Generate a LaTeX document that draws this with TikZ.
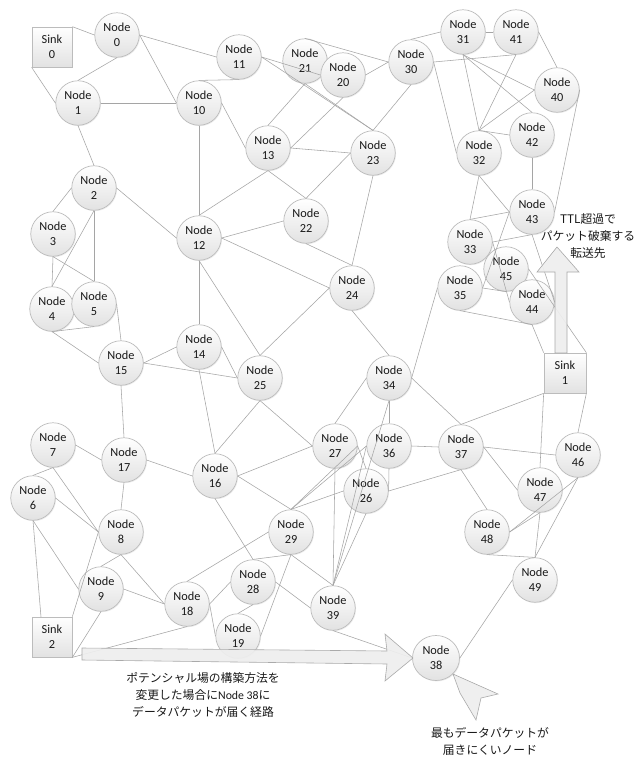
\documentclass[tikz,border=0pt]{standalone}
\usepackage{fontspec}
\setmainfont{Carlito}
\newfontfamily\cjk{Noto Sans CJK JP}
\usetikzlibrary{shadows,shapes.geometric}
\definecolor{edgegray}{RGB}{165,165,165}
\definecolor{rim}{RGB}{188,188,188}
\definecolor{shadebot}{RGB}{226,226,226}
\definecolor{inkc}{RGB}{25,25,25}
\definecolor{arrowfill}{RGB}{238,238,238}
\definecolor{arrowline}{RGB}{170,170,170}

\begin{document}
\begin{tikzpicture}[x=1pt,y=-1pt,
  nd/.style={circle, minimum size=44.5pt, inner sep=0pt, draw=rim, line width=0.7pt,
    top color=white, bottom color=shadebot, align=center, text=inkc,
    font=\fontsize{12.3}{15}\selectfont,
    drop shadow={shadow xshift=0.8pt, shadow yshift=-0.9pt, opacity=0.15}},
  sinkbox/.style={rectangle, minimum width=40pt, minimum height=40pt, inner sep=0pt,
    draw=rim, line width=0.7pt, top color=white, bottom color=shadebot,
    align=center, text=inkc, font=\fontsize{12.3}{15}\selectfont,
    drop shadow={shadow xshift=0.8pt, shadow yshift=-0.9pt, opacity=0.15}},
  link/.style={draw=edgegray, line width=0.55pt},
  bigarrow/.style={fill=arrowfill, draw=arrowline, line width=0.6pt, fill opacity=0.92},
  caption/.style={align=center, text=inkc, font=\fontsize{11.8}{17}\selectfont}]

\path[use as bounding box, fill=white] (0,0) rectangle (640,758);

% sinks
\node[sinkbox] (s0) at (52,47) {Sink\\0};
\node[sinkbox, minimum width=42pt] (s1) at (565,373) {Sink\\1};
\node[sinkbox] (s2) at (52,637) {Sink\\2};

% sensor nodes
\node[nd] (n0) at (117,35) {Node\\0};
\node[nd] (n1) at (78,103) {Node\\1};
\node[nd] (n10) at (199,103) {Node\\10};
\node[nd] (n11) at (239,57) {Node\\11};
\node[nd] (n21) at (305,61) {Node\\21};
\node[nd] (n20) at (343,75) {Node\\20};
\node[nd] (n30) at (411,62) {Node\\30};
\node[nd] (n31) at (463,32) {Node\\31};
\node[nd] (n41) at (516,32) {Node\\41};
\node[nd] (n40) at (557,90) {Node\\40};
\node[nd] (n42) at (532,135) {Node\\42};
\node[nd] (n32) at (479,153) {Node\\32};
\node[nd] (n13) at (268,148) {Node\\13};
\node[nd] (n23) at (373,153) {Node\\23};
\node[nd] (n2) at (94,188) {Node\\2};
\node[nd] (n3) at (53,234) {Node\\3};
\node[nd] (n4) at (52,309) {Node\\4};
\node[nd] (n5) at (94,304) {Node\\5};
\node[nd] (n12) at (199,238) {Node\\12};
\node[nd] (n22) at (306,221) {Node\\22};
\node[nd] (n24) at (352,288) {Node\\24};
\node[nd] (n14) at (199,347) {Node\\14};
\node[nd] (n15) at (121,363) {Node\\15};
\node[nd] (n25) at (260,378) {Node\\25};
\node[nd] (n34) at (389,378) {Node\\34};
\node[nd] (n43) at (532,212) {Node\\43};
\node[nd] (n33) at (470,242) {Node\\33};
\node[nd] (n35) at (460,288) {Node\\35};
\node[nd] (n45) at (506,269) {Node\\45};
\node[nd] (n44) at (532,302) {Node\\44};
\node[nd] (n7) at (53,445) {Node\\7};
\node[nd] (n17) at (124,460) {Node\\17};
\node[nd] (n6) at (33,498) {Node\\6};
\node[nd] (n8) at (121,532) {Node\\8};
\node[nd] (n9) at (101,589) {Node\\9};
\node[nd] (n18) at (187,604) {Node\\18};
\node[nd] (n16) at (215,476) {Node\\16};
\node[nd] (n27) at (335,446) {Node\\27};
\node[nd] (n36) at (389,446) {Node\\36};
\node[nd] (n26) at (366,491) {Node\\26};
\node[nd] (n29) at (291,532) {Node\\29};
\node[nd] (n28) at (253,582) {Node\\28};
\node[nd] (n39) at (333,608) {Node\\39};
\node[nd] (n19) at (238,636) {Node\\19};
\node[nd] (n37) at (461,447) {Node\\37};
\node[nd] (n46) at (578,455) {Node\\46};
\node[nd] (n47) at (540,490) {Node\\47};
\node[nd] (n48) at (487,532) {Node\\48};
\node[nd] (n49) at (535,580) {Node\\49};
\node[nd, ellipse, minimum width=47pt, minimum height=45pt] (n38) at (436,658) {Node\\38};

% attachment point on the top edge of sink 2
\coordinate (s2t) at (41,617);

% links between connection points
\foreach \a/\b in {
  s0.north east/n0.west, s0.south west/n1.west, n0.south/n1.north,
  n0.east/n10.west, n0.east/n11.west, n1.east/n10.west, n1.south/n2.north,
  n10.north/n11.south, n10.south/n12.north, n10.east/n13.west,
  n11.east/n20.west, n11.east/n23.north, n21.north/n30.west, n20.east/n30.west,
  n21.south/n13.north, n21.south/n23.north, n20.south/n13.east,
  n13.east/n23.west, n30.south/n23.north, n30.north/n31.west,
  n30.east/n41.south, n30.east/n32.west, n31.east/n41.west,
  n31.south/n32.north, n31.south/n40.west, n31.south/n42.north,
  n41.south/n32.north, n41.east/n40.north, n40.west/n32.north,
  n42.west/n32.north, n40.east/n43.east, n42.south/n43.north,
  n32.south/n43.west, n32.south/n33.north, n33.north/n43.west,
  n43.south/n33.east, n43.west/n35.east, n43.south/n44.east,
  n33.east/n44.west,
  n35.east/n45.south, n35.south/n44.south, n44.south/s1.north west,
  n45.east/s1.north east, n34.east/n35.west,
  n13.south/n12.north, n13.south/n22.north, n23.west/n22.north,
  n23.south/n24.north, n22.south/n24.north, n12.east/n22.west,
  n12.east/n24.west, n12.south/n25.north, n12.south/n14.north,
  n25.north/n24.west, n24.south/n34.north,
  n2.west/n3.north, n2.south/n4.north, n2.south/n5.north, n2.east/n12.west,
  n3.south/n4.north, n3.south/n5.north, n4.south/n5.south,
  n4.south/n15.west, n5.east/n15.north, n15.east/n14.west,
  n15.east/n25.west, n14.east/n25.west, n14.south/n16.north,
  n15.south/n17.north, n7.east/n17.west, n17.east/n16.west,
  n17.south/n8.north, n7.south/n6.north, n7.south/n8.west,
  n6.east/n8.west, n6.south/s2t, n6.south/n9.west, n8.west/s2.north east,
  n8.south/n9.north, n8.south/n18.west, n9.east/n18.west,
  n9.south/s2.south east, s2.south east/n18.south,
  n18.north/n29.west, n18.east/n28.west, n18.east/n19.west,
  n16.north/n25.south, n25.south/n27.west, n16.east/n27.west,
  n16.east/n29.north, n16.south/n28.north, n28.north/n29.south,
  n28.south/n19.north, n28.east/n39.west, n29.south/n39.north,
  n29.south/n19.east, n29.north/n27.east, n29.north/n36.west,
  n29.north/n26.west, n27.east/n26.north, n27.south/n39.north,
  n36.west/n39.north, n26.south/n39.north, n34.south/n39.north,
  n34.west/n27.north, n34.south/n36.north, n36.south/n26.east,
  n36.east/n37.west, n34.east/n37.north, n26.east/n37.south,
  n37.north/s1.south west, n37.east/n46.west, n37.east/n47.west,
  n37.south/n48.north, s1.south west/n47.north, s1.south east/n46.north,
  n46.south/n48.east, n47.south/n48.east, n46.south/n49.north,
  n47.south/n49.north, n48.south/n49.north, n49.west/n38.east,
  n39.south/n38.west}
  \draw[link] (\a) -- (\b);

% block arrows
\draw[bigarrow] (82,648) -- (387,651) -- (385,634) -- (413,658) -- (385,681)
  -- (387,664) -- (82,660) -- cycle;
\draw[bigarrow] (555,353) -- (555,272) -- (537,272) -- (557,247) -- (579,272)
  -- (567,272) -- (567,353) -- cycle;
\draw[bigarrow] (453,674) -- (498,694) -- (481,698) -- (476,720) -- (460,693) -- cycle;

% annotations
\node[caption] (ttl) at (588,236) {{\cjk TTL超過で}\\{\cjk パケット破棄する}\\{\cjk 転送先}};
\node[caption] (route) at (203,695) {{\cjk ポテンシャル場の構築方法を}\\{\cjk 変更した場合に}Node 38{\cjk に}\\{\cjk データパケットが届く経路}};
\node[caption] (worst) at (490,741) {{\cjk 最もデータパケットが}\\{\cjk 届きにくいノード}};
\end{tikzpicture}
\end{document}
